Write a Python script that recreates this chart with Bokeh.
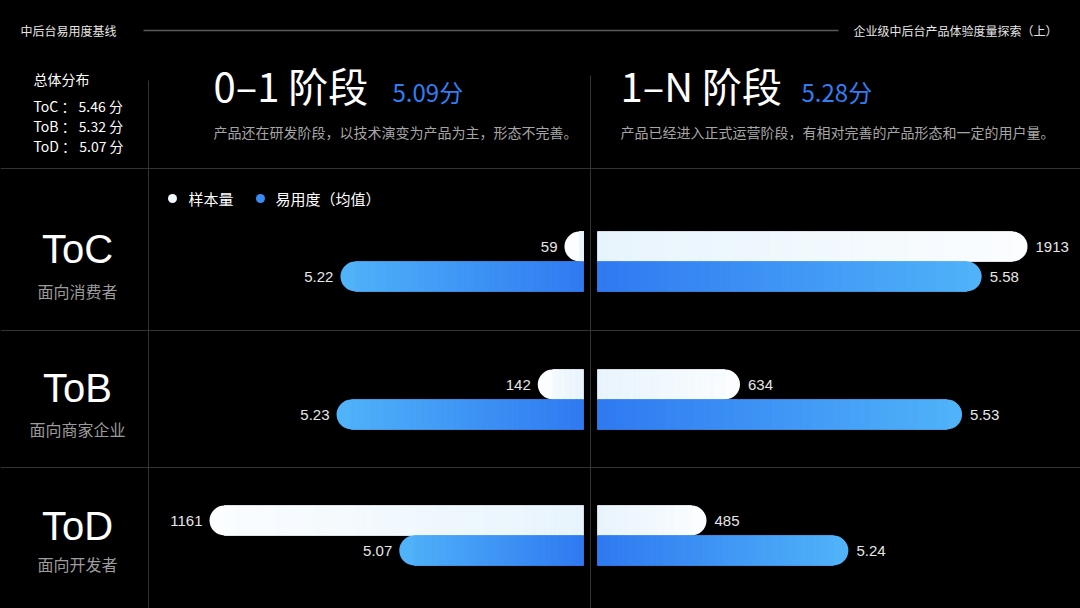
import numpy as np

from bokeh.plotting import figure
from bokeh.models import Range1d, ColumnDataSource
from bokeh.core.properties import value
from bokeh.embed import file_html
from bokeh.resources import INLINE

# data
header_left = "中后台易用度基线"
header_right = "企业级中后台产品体验度量探索（上）"
overall_title = "总体分布"
segments = ["ToC", "ToB", "ToD"]
segment_desc = ["面向消费者", "面向商家企业", "面向开发者"]
overall_scores = [5.46, 5.32, 5.07]
stage_names = ["0–1 阶段", "1–N 阶段"]
stage_scores = [5.09, 5.28]
stage_desc = ["产品还在研发阶段，以技术演变为产品为主，形态不完善。",
              "产品已经进入正式运营阶段，有相对完善的产品形态和一定的用户量。"]
legend_labels = ["样本量", "易用度（均值）"]
samples_01 = [59, 142, 1161]
ease_01 = [5.22, 5.23, 5.07]
samples_1n = [1913, 634, 485]
ease_1n = [5.58, 5.53, 5.24]

# layout
W, H = 1080, 608
CJK = "Noto Sans CJK SC"
LAT = "Liberation Sans"
BAR_H = 30
R = 15
row_mid = [261, 399, 535]
AX_L, AX_R = 583, 597      # zero position of left / right panel
N_PX_L, N_PX_R = 374, 430  # pixel length of the longest sample bar
E_BASE, E_PX = 4.6, 392    # score axis starts at 4.6, px per point


def Y(y):
    return H - y


p = figure(width=W, height=H, x_range=Range1d(0, W), y_range=Range1d(0, H),
           output_backend="svg", toolbar_location=None,
           x_axis_type=None, y_axis_type=None, min_border=0,
           background_fill_color="black", border_fill_color="black",
           outline_line_color=None)
p.grid.visible = False

kl = N_PX_L / max(samples_01)
kr = N_PX_R / max(samples_1n)
p.extra_x_ranges = {
    "n01": Range1d(AX_L / kl, -(W - AX_L) / kl),
    "e01": Range1d(E_BASE + AX_L / E_PX, E_BASE - (W - AX_L) / E_PX),
    "n1n": Range1d(-AX_R / kr, (W - AX_R) / kr),
    "e1n": Range1d(E_BASE - AX_R / E_PX, E_BASE + (W - AX_R) / E_PX),
}


def txt(x, y, s, size, color="#ffffff", font=CJK, align="left", style="normal"):
    p.text(x=[x], y=[Y(y)], text=[s], text_font=value(font),
           text_font_size=size, text_color=color, text_align=align,
           text_baseline="middle", text_font_style=style)


def rgb(c):
    return np.array([int(c[i:i + 2], 16) for i in (1, 3, 5)], float)


def mix(c0, c1, t):
    a = rgb(c0) * (1 - t) + rgb(c1) * t
    return "#%02x%02x%02x" % tuple(int(round(v)) for v in a)


def bars(vals, base, ys, rng, k, side, c_in, c_out, n=36):
    rad = (R, 0, 0, R) if side == "left" else (0, R, R, 0)
    yy = [Y(y) for y in ys]
    if side == "left":
        p.hbar(y=yy, left=vals, right=base, height=BAR_H, fill_color=c_out,
               line_color=None, border_radius=rad, x_range_name=rng)
    else:
        p.hbar(y=yy, left=base, right=vals, height=BAR_H, fill_color=c_out,
               line_color=None, border_radius=rad, x_range_name=rng)
    lft, rgt, ycol, col = [], [], [], []
    for v, y in zip(vals, yy):
        L = v - base
        stop = L - R / k
        for i in range(n):
            d0, d1 = stop * i / n, stop * (i + 1) / n
            t = (d0 + d1) / 2 / L
            if side == "left":
                lft.append(base + d1)
                rgt.append(base + d0)
            else:
                lft.append(base + d0)
                rgt.append(base + d1)
            ycol.append(y)
            col.append(mix(c_in, c_out, t))
    src = ColumnDataSource(dict(left=lft, right=rgt, y=ycol, color=col))
    p.hbar(y="y", left="left", right="right", height=BAR_H, source=src,
           fill_color="color", line_color="color", line_width=0.6,
           x_range_name=rng)


def labels(vals, ys, rng, fmt, side):
    p.text(x=vals, y=[Y(y) for y in ys], text=[fmt % v for v in vals],
           x_range_name=rng, x_offset=-7 if side == "left" else 8,
           text_align="right" if side == "left" else "left",
           text_baseline="middle", text_font=value(LAT),
           text_font_size="15px", text_color="#e6e6e6")


# frame lines
p.segment(x0=[143], y0=[Y(30)], x1=[838], y1=[Y(30)], line_color="#5a5a5a", line_width=1.5)
p.segment(x0=[0, 0, 0, 148, 590], y0=[Y(168), Y(330), Y(467), Y(80), Y(75)],
          x1=[W, W, W, 148, 590], y1=[Y(168), Y(330), Y(467), Y(H), Y(H)],
          line_color="#333333", line_width=1)

# header
txt(20, 30, header_left, "12px", "#e6e6e6")
txt(1057, 30, header_right, "12px", "#e6e6e6", align="right")

# overall block
txt(33, 78, overall_title, "14px")
for i, (s, v) in enumerate(zip(segments, overall_scores)):
    txt(33, 105 + 20 * i, "%s ： %.2f 分" % (s, v), "14px")

# stage titles
for x, sx, name, sc, d in zip([213, 620], [392, 801], stage_names, stage_scores, stage_desc):
    txt(x, 84, name, "40px")
    txt(sx, 91, "%.2f分" % sc, "24px", "#2f7ff2")
    txt(x, 131, d, "14px", "#a6a6a6")

# row labels
for s, d, cy, dy in zip(segments, segment_desc, [248, 387, 525], [290, 428, 563]):
    txt(77, cy, s, "40px", font=LAT, align="center")
    txt(77, dy, d, "16px", "#9c9c9c", align="center")

# legend
p.scatter(x=[172, 260], y=[Y(198), Y(198)], size=9,
          fill_color=["#f2f8ff", "#3a8cf4"], line_color=None)
txt(188, 198, legend_labels[0], "15px")
txt(275, 198, legend_labels[1], "15px")

# bars
white_y = [m - BAR_H / 2 for m in row_mid]
blue_y = [m + BAR_H / 2 for m in row_mid]
W_IN, W_OUT = "#e8f4fd", "#fbfdff"
B_IN, B_OUT = "#2f79f1", "#50b3f9"

bars(samples_01, 0, white_y, "n01", kl, "left", W_IN, W_OUT)
bars(ease_01, E_BASE, blue_y, "e01", E_PX, "left", B_IN, B_OUT)
bars(samples_1n, 0, white_y, "n1n", kr, "right", W_IN, W_OUT)
bars(ease_1n, E_BASE, blue_y, "e1n", E_PX, "right", B_IN, B_OUT)

labels(samples_01, white_y, "n01", "%d", "left")
labels(ease_01, blue_y, "e01", "%.2f", "left")
labels(samples_1n, white_y, "n1n", "%d", "right")
labels(ease_1n, blue_y, "e1n", "%.2f", "right")

template = """
{% block postamble %}
<style>html, body { margin: 0 !important; padding: 0; background: #000; overflow: hidden; }</style>
{% endblock %}
"""

open("out.html", "w").write(file_html(p, INLINE, template=template))
